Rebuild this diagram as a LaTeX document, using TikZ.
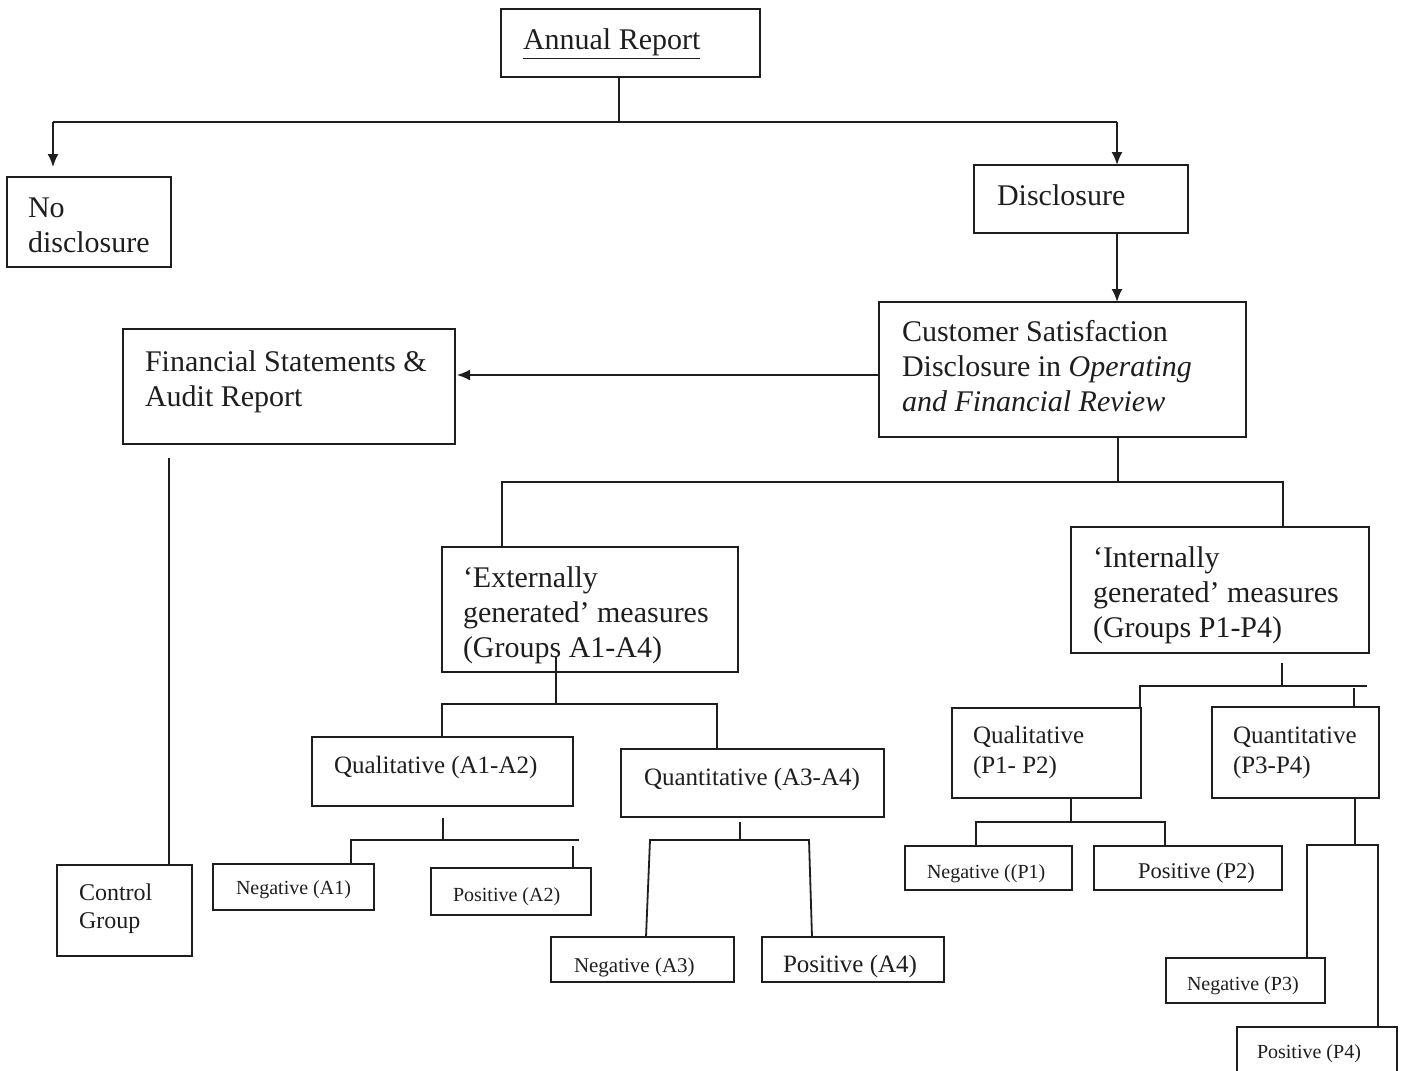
\documentclass[tikz,border=0pt]{standalone}
\usepackage{fontspec}
\setmainfont{Liberation Serif}
\usetikzlibrary{arrows.meta}
\definecolor{ink}{HTML}{1E1E1E}

\begin{document}
\begin{tikzpicture}[x=1pt,y=-1pt,
  every path/.style={color=ink},
  box/.style={draw=ink, line width=1.8pt, inner sep=0pt, outer sep=0pt, anchor=north west},
  txt/.style={inner sep=0pt, outer sep=0pt, anchor=base west, align=left, text=ink},
  big/.style={font=\fontsize{30}{35}\selectfont},
  mid/.style={font=\fontsize{25}{30}\selectfont},
  link/.style={line width=1.8pt, draw=ink},
  arr/.style={link, -{Latex[length=13pt,width=11pt]}}
]
\fill[white] (0,0) rectangle (1404,1070);
\useasboundingbox (0,0) rectangle (1404,1070);

% ---------- boxes ----------
\node[box, minimum width=259, minimum height=68]  (ar)   at (501,9)    {};
\node[box, minimum width=164, minimum height=90]  (nd)   at (7,177)    {};
\node[box, minimum width=214, minimum height=68]  (disc) at (974,165)  {};
\node[box, minimum width=367, minimum height=135] (csd)  at (879,302)  {};
\node[box, minimum width=332, minimum height=115] (fs)   at (123,329)  {};
\node[box, minimum width=135, minimum height=91]  (cg)   at (57,865)   {};
\node[box, minimum width=296, minimum height=125] (ext)  at (442,547)  {};
\node[box, minimum width=298, minimum height=126] (int)  at (1071,527) {};
\node[box, minimum width=261, minimum height=69]  (qa)   at (312,737)  {};
\node[box, minimum width=263, minimum height=68]  (qn)   at (621,749)  {};
\node[box, minimum width=161, minimum height=46]  (na1)  at (213,864)  {};
\node[box, minimum width=160, minimum height=47]  (pa2)  at (431,868)  {};
\node[box, minimum width=183, minimum height=45]  (na3)  at (551,937)  {};
\node[box, minimum width=182, minimum height=45]  (pa4)  at (762,937)  {};
\node[box, minimum width=189, minimum height=90]  (qp)   at (952,708)  {};
\node[box, minimum width=167, minimum height=91]  (qnp)  at (1212,707) {};
\node[box, minimum width=167, minimum height=44]  (np1)  at (905,846)  {};
\node[box, minimum width=188, minimum height=44]  (pp2)  at (1094,846) {};
\node[box, minimum width=159, minimum height=45]  (np3)  at (1166,958) {};
\node[box, minimum width=160, minimum height=50]  (pp4)  at (1237,1027) {};

% ---------- texts (multi-line texts are placed by their last baseline) ----------
\node[txt, big] (ar-t)   at (523,50)  {\underline{Annual Report}};
\node[txt, big] (nd-t)   at (28,252)  {No\\disclosure};
\node[txt, big] (disc-t) at (997,205) {Disclosure};
\node[txt, big] (csd-t)  at (902,411) {Customer Satisfaction\\Disclosure in \textit{Operating}\\\textit{and Financial Review}};
\node[txt, big] (fs-t)   at (145,406) {Financial Statements \&\\Audit Report};
\node[txt, font=\fontsize{24}{28}\selectfont] (cg-t) at (79,928) {Control\\Group};
\node[txt, big] (ext-t)  at (463,657) {‘Externally\\generated’ measures\\(Groups A1-A4)};
\node[txt, big] (int-t)  at (1093,637) {‘Internally\\generated’ measures\\(Groups P1-P4)};
\node[txt, mid] (qa-t)   at (334,773) {Qualitative (A1-A2)};
\node[txt, mid] (qn-t)   at (644,785) {Quantitative (A3-A4)};
\node[txt, font=\fontsize{20}{24}\selectfont] (na1-t) at (236,894) {Negative (A1)};
\node[txt, font=\fontsize{20}{24}\selectfont] (pa2-t) at (453,901) {Positive (A2)};
\node[txt, font=\fontsize{21}{25}\selectfont] (na3-t) at (574,972) {Negative (A3)};
\node[txt, mid] (pa4-t)  at (783,972) {Positive (A4)};
\node[txt, mid] (qp-t)   at (973,773) {Qualitative\\(P1- P2)};
\node[txt, mid] (qnp-t)  at (1233,773) {Quantitative\\(P3-P4)};
\node[txt, font=\fontsize{20}{24}\selectfont] (np1-t) at (927,878) {Negative ((P1)};
\node[txt, font=\fontsize{22.5}{26}\selectfont] (pp2-t) at (1138,878) {Positive (P2)};
\node[txt, font=\fontsize{20}{24}\selectfont] (np3-t) at (1187,990) {Negative (P3)};
\node[txt, font=\fontsize{20}{24}\selectfont] (pp4-t) at (1257,1058) {Positive (P4)};

% ---------- junction points ----------
\coordinate (jTop) at (619,122);
\coordinate (jL)   at (53,122);
\coordinate (jR)   at (1117,122);
\coordinate (ndTip) at (53,167);
\coordinate (fsIn) at (457,375);
\coordinate (cgTop) at (169,458);
\coordinate (c1) at (1118,482);
\coordinate (c1L) at (502,482);
\coordinate (c1R) at (1283,482);
\coordinate (e0) at (556,657);
\coordinate (e1) at (556,704);
\coordinate (e1L) at (442,704);
\coordinate (e1R) at (717,704);
\coordinate (a0) at (443,818);
\coordinate (a1) at (443,840);
\coordinate (a1L) at (351,840);
\coordinate (a1R) at (579,840);
\coordinate (a2) at (573,846);
\coordinate (b0) at (740,822);
\coordinate (b1) at (740,840);
\coordinate (b1L) at (650,840);
\coordinate (b1R) at (809,840);
\coordinate (b2L) at (646,937);
\coordinate (b2R) at (812,937);
\coordinate (i0) at (1282,663);
\coordinate (i1) at (1282,686);
\coordinate (i1L) at (1140,686);
\coordinate (i1R) at (1367,686);
\coordinate (i2) at (1354,688);
\coordinate (p1) at (1071,822);
\coordinate (p1L) at (976,822);
\coordinate (p1R) at (1165,822);
\coordinate (q1) at (1355,845);
\coordinate (q1L) at (1307,845);
\coordinate (q1R) at (1378,845);

% ---------- connectors ----------
\draw[link] (jTop |- ar.south) -- (jTop);
\draw[link] (jL) -- (jR);
\draw[arr]  (jL) -- (ndTip);
\draw[arr]  (jR) -- (jR |- disc.north);
\draw[arr]  (jR |- disc.south) -- (jR |- csd.north);
\draw[arr]  (csd.west |- fsIn) -- (fsIn);
\draw[link] (cgTop) -- (cgTop |- cg.north);

\draw[link] (c1 |- csd.south) -- (c1);
\draw[link] (c1L |- ext.north) -- (c1L) -- (c1R) -- (c1R |- int.north);

\draw[link] (e0) -- (e1);
\draw[link] (e1L |- qa.north) -- (e1L) -- (e1R) -- (e1R |- qn.north);

\draw[link] (a0) -- (a1);
\draw[link] (a1L |- na1.north) -- (a1L) -- (a1R);
\draw[link] (a2) -- (a2 |- pa2.north);

\draw[link] (b0) -- (b1);
\draw[link] (b2L |- na3.north) -- (b1L) -- (b1R) -- (b2R |- pa4.north);

\draw[link] (i0) -- (i1);
\draw[link] (i1L |- qp.north) -- (i1L) -- (i1R);
\draw[link] (i2) -- (i2 |- qnp.north);

\draw[link] (p1 |- qp.south) -- (p1);
\draw[link] (p1L |- np1.north) -- (p1L) -- (p1R) -- (p1R |- pp2.north);

\draw[link] (q1 |- qnp.south) -- (q1);
\draw[link] (q1L |- np3.north) -- (q1L) -- (q1R) -- (q1R |- pp4.north);
\end{tikzpicture}
\end{document}
